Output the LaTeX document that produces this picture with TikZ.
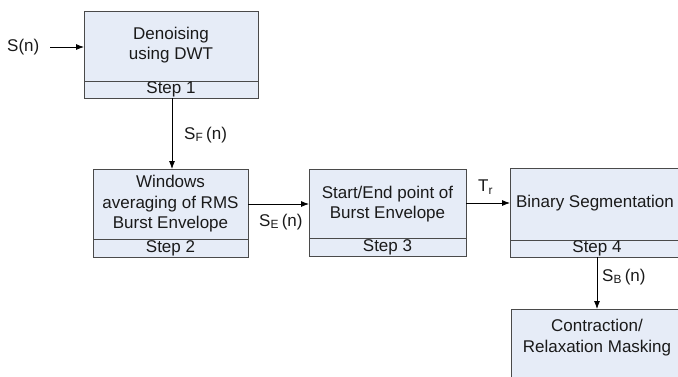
\documentclass[tikz,border=0pt]{standalone}
\usepackage{fontspec}
\setmainfont{Liberation Sans}
\usetikzlibrary{arrows.meta}
\definecolor{boxfill}{HTML}{E6ECF7}
\definecolor{boxline}{HTML}{4A4A4A}
\definecolor{txt}{HTML}{1A1A1A}
\tikzset{
  stepbox/.style={draw=boxline, fill=boxfill, line width=0.9pt},
  divline/.style={draw=boxline, line width=0.9pt},
  conn/.style={draw=black, line width=0.8pt, -{Latex[length=8pt,width=6pt]}},
  lbl/.style={font=\fontsize{17}{20.5}\selectfont, text=txt, inner sep=0pt, align=center},
}
\newcommand{\sbs}[1]{\textsubscript{#1}}
\begin{document}
\begin{tikzpicture}[x=1pt,y=-1pt]
\useasboundingbox (0,0) rectangle (678,376);
\clip (0,0) rectangle (678,376);
% boxes
\draw[stepbox] (84,11) rectangle (258,98);
\draw[divline] (84,81) -- (258,81);
\draw[stepbox] (93,169) rectangle (248,257);
\draw[divline] (93,239) -- (248,239);
\draw[stepbox] (309,169) rectangle (466,256);
\draw[divline] (309,238) -- (466,238);
\draw[stepbox] (510,168) rectangle (684,257);
\draw[divline] (510,240) -- (684,240);
\draw[stepbox] (511,309) rectangle (684,400);
% coordinates for box connections
\coordinate (b1w) at (84,47);
\coordinate (b1s) at (172,98);
\coordinate (b2n) at (172,169);
\coordinate (b2e) at (248,204);
\coordinate (b3w) at (309,204);
\coordinate (b3e) at (466,203);
\coordinate (b4w) at (510,203);
\coordinate (b4s) at (597,257);
\coordinate (b5n) at (597,309);
\coordinate (sin) at (50,47);
% texts
\node[lbl] (t1) at (171,45) {Denoising\\using DWT};
\node[lbl] (s1) at (171,89.5) {Step 1};
\node[lbl] (t2) at (170.5,204) {Windows\\averaging of RMS\\Burst Envelope};
\node[lbl] (s2) at (170.5,248) {Step 2};
\node[lbl] (t3) at (387.5,204) {Start/End point of\\Burst Envelope};
\node[lbl] (s3) at (387.5,247) {Step 3};
\node[lbl] (t4) at (595,203) {Binary Segmentation};
\node[lbl] (s4) at (597,248.5) {Step 4};
\node[lbl] (t5) at (597,337.5) {Contraction/\\Relaxation Masking};
% input label
\node[lbl, anchor=west] (sn) at (7,47) {S(n)};
% connectors
\draw[conn] (sin) -- (b1w);
\draw[conn] (b1s) -- (b2n);
\draw[conn] (b2e) -- (b3w);
\draw[conn] (b3e) -- (b4w);
\draw[conn] (b4s) -- (b5n);
% connector labels
\node[lbl, anchor=west] (lf) at (184,135) {S\sbs{F}\,(n)};
\node[lbl, anchor=west] (le) at (259,222) {S\sbs{E}\,(n)};
\node[lbl, anchor=west] (lt) at (478,187) {T\sbs{r}};
\node[lbl, anchor=west] (lb) at (602,277) {S\sbs{B}\,(n)};
\end{tikzpicture}
\end{document}
